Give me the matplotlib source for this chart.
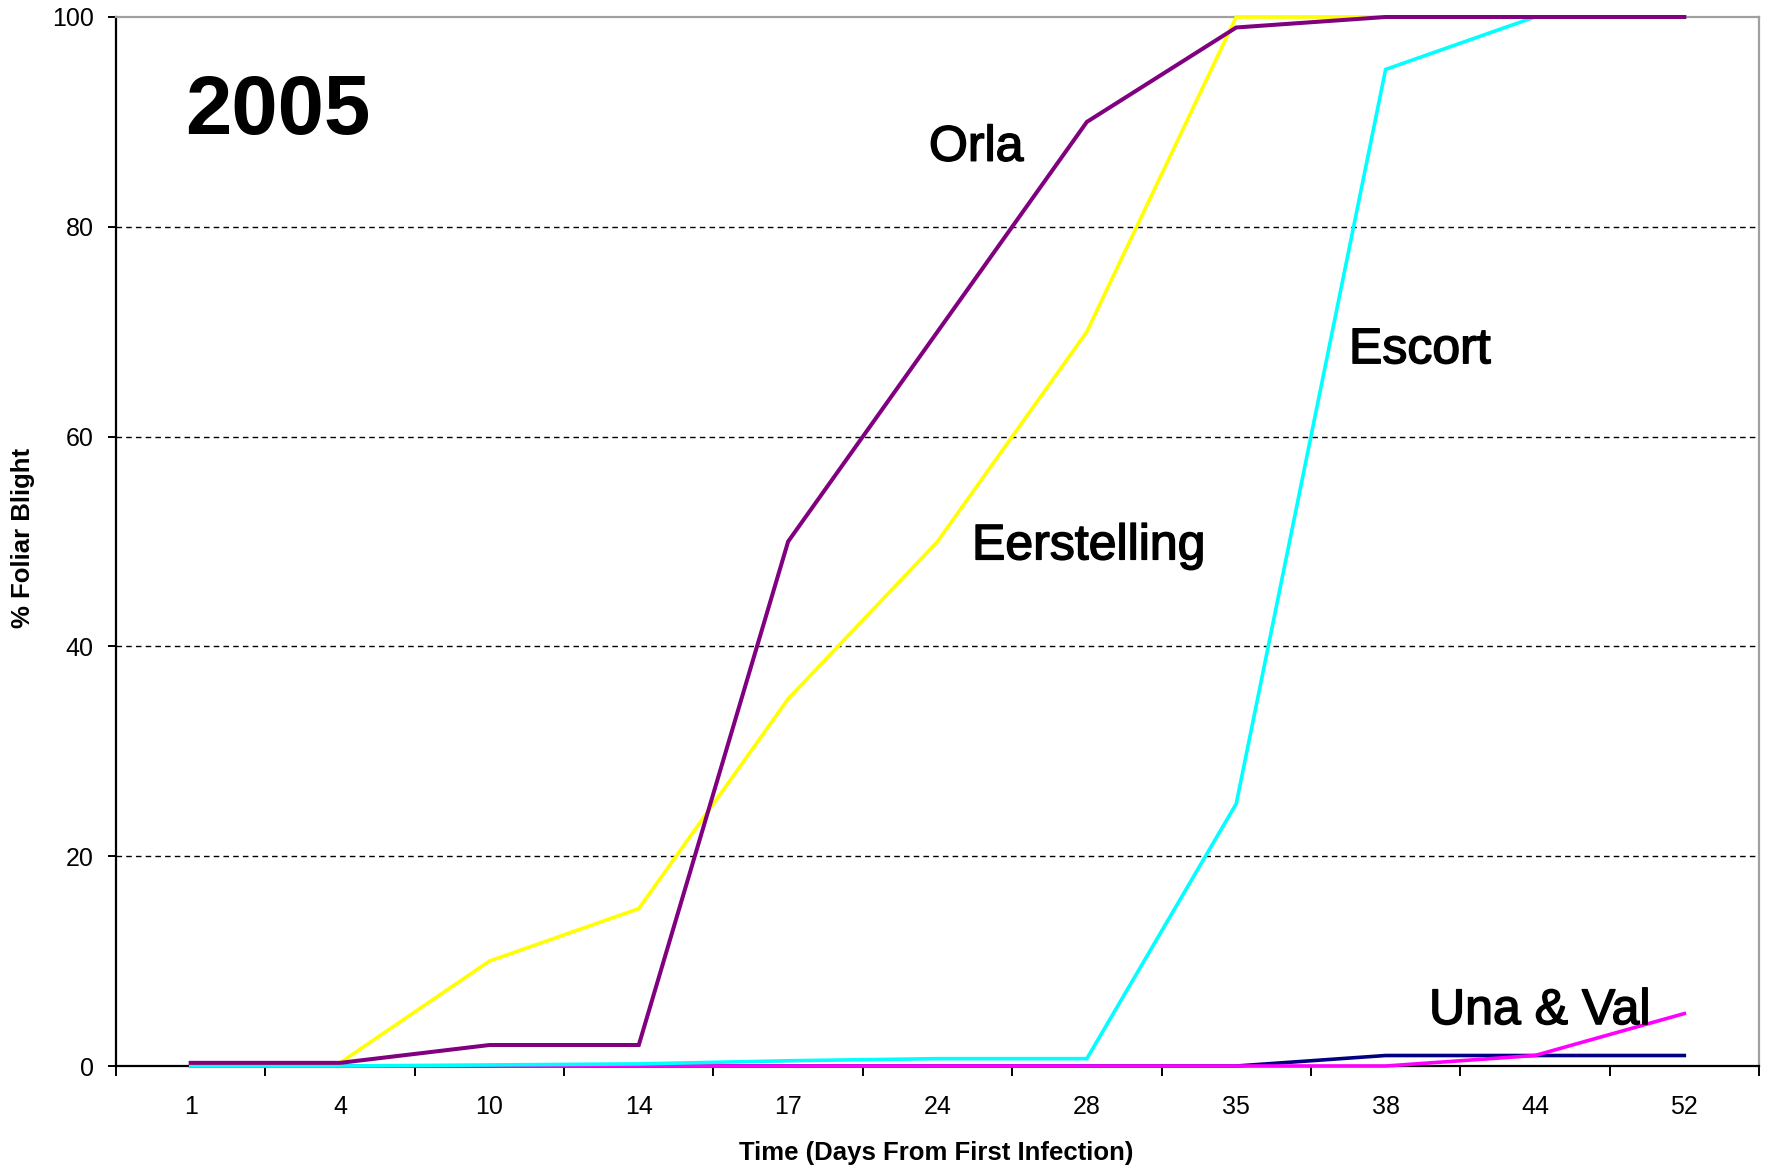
import matplotlib
matplotlib.use("Agg")
import matplotlib.pyplot as plt
import matplotlib.patheffects as pe
import numpy as np

# Days from first infection (category axis)
days = ["1", "4", "10", "14", "17", "24", "28", "35", "38", "44", "52"]

# % foliar blight per cultivar
una = [0, 0, 0, 0, 0, 0, 0, 0, 1, 1, 1]
val = [0, 0, 0, 0, 0, 0, 0, 0, 0, 1, 5]
escort = [0, 0, 0.1, 0.2, 0.5, 0.7, 0.7, 25, 95, 100, 100]
eerstelling = [0.3, 0.3, 10, 15, 35, 50, 70, 100, 100, 100, 100]
orla = [0.3, 0.3, 2, 2, 50, 70, 90, 99, 100, 100, 100]

y_ticks = [0, 20, 40, 60, 80, 100]

W, H, DPI = 1773, 1168, 100
fig = plt.figure(figsize=(W / DPI, H / DPI), dpi=DPI)
fig.patch.set_facecolor("white")

left, right, top, bottom = 116, 1759, 17, 1066
ax = fig.add_axes([left / W, 1 - bottom / H, (right - left) / W, (bottom - top) / H])

x = np.arange(len(days))
series = [
    (una, "#000080", 2.6),
    (val, "#FF00FF", 2.6),
    (escort, "#00FFFF", 2.6),
    (eerstelling, "#FFFF00", 2.6),
    (orla, "#800080", 2.9),
]
for i, (vals, col, lw) in enumerate(series):
    ax.plot(x, vals, color=col, lw=lw, solid_joinstyle="miter", zorder=3 + i, clip_on=False)

ax.set_xlim(-0.5, len(days) - 0.5)
ax.set_ylim(0, 100)

# grid lines
for yv in y_ticks[1:-1]:
    ax.axhline(yv, color="black", lw=1.0, dashes=(4, 3), zorder=1)

# spines
for s in ("left", "bottom"):
    ax.spines[s].set_color("black")
    ax.spines[s].set_linewidth(1.6)
for s in ("top", "right"):
    ax.spines[s].set_color("#A0A0A0")
    ax.spines[s].set_linewidth(1.6)

# ticks
ax.set_xticks(x)
ax.set_xticklabels(days)
ax.set_xticks(np.arange(-0.5, len(days), 1.0), minor=True)
ax.tick_params(axis="x", which="major", length=0, pad=21,
               labelsize=18, labelcolor="black")
ax.tick_params(axis="x", which="minor", length=7.5, width=1.4,
               direction="out", color="black")
ax.set_yticks(y_ticks)
ax.set_yticklabels([str(v) for v in y_ticks])
ax.tick_params(axis="y", which="major", length=6, width=1.4, direction="out",
               pad=10, labelsize=18, color="black", labelcolor="black")
for lab in ax.get_xticklabels() + ax.get_yticklabels():
    lab.set_family("Liberation Sans")

# axis titles
fig.text(936 / W, (H - 1160) / H, "Time (Days From First Infection)",
         ha="center", va="baseline", fontsize=18.5, fontweight="bold",
         family="Liberation Sans", color="black")
fig.text(23 / W, 1 - 538 / H, "% Foliar Blight", rotation=90,
         ha="center", va="center", fontsize=18.5, fontweight="bold",
         family="Liberation Sans", color="black")

# year and cultivar labels
ax.text(-0.038, 88.8, "2005", ha="left", va="baseline", fontsize=60,
        fontweight="bold", family="Liberation Sans", color="black")
label_font = dict(ha="left", va="baseline", fontsize=36,
                  family="Liberation Sans", color="black", zorder=10,
                  path_effects=[pe.withStroke(linewidth=1.1, foreground="black")])
ax.text(4.943, 86.3, "Orla", **label_font)
ax.text(5.231, 48.3, "Eerstelling", **label_font)
ax.text(7.755, 67.0, "Escort", **label_font)
ax.text(8.291, 4.0, "Una & Val", **label_font)

fig.savefig("out.png", dpi=DPI, facecolor="white")
